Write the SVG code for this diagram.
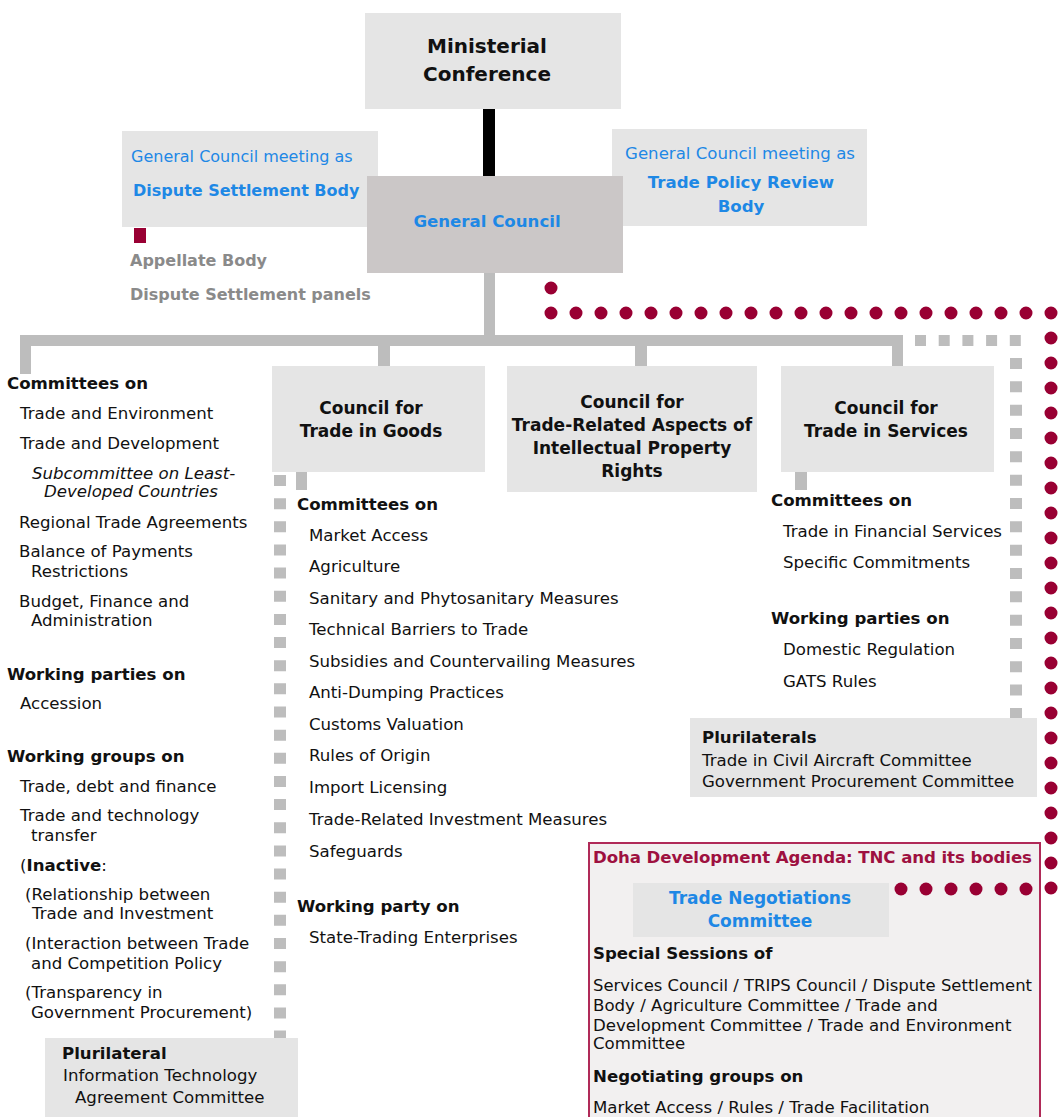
<svg xmlns="http://www.w3.org/2000/svg" width="1058" height="1117" viewBox="0 0 1058 1117">
<style>
text{font-family:"DejaVu Sans","Liberation Sans",sans-serif;font-size:16.6px;fill:#111}
.b{font-weight:bold}
.t{font-weight:bold;font-size:17px}
.c{text-anchor:middle}
.blue{fill:#1e88e5}
.gray{fill:#8a8a8a;font-weight:bold;font-size:16px}
.red{fill:#9e1040;font-weight:bold}
.box{fill:#e5e5e5}
.gc{fill:#cbc7c7}
.bar{fill:#bdbdbd}
.sq{fill:none;stroke:#bdbdbd;stroke-width:12}
.dots{fill:none;stroke:#990033;stroke-width:13;stroke-linecap:round;stroke-dasharray:0 25}
.dot{fill:#990033}
</style>
<rect width="1058" height="1117" fill="#ffffff"/>

<g id="connectors">
<rect x="483" y="109" width="12" height="68" fill="#000"/>
<rect class="bar" x="484" y="273" width="11" height="64"/>
<rect class="bar" x="20" y="335" width="883" height="11"/>
<rect class="bar" x="20" y="335" width="11" height="39"/>
<rect class="bar" x="378" y="340" width="12" height="26"/>
<rect class="bar" x="635" y="340" width="12" height="26"/>
<rect class="bar" x="892" y="335" width="11" height="31"/>
<rect class="bar" x="296" y="470" width="11" height="20"/>
<rect class="bar" x="795" y="470" width="12" height="20"/>
<path class="sq" d="M915,340.5 H1022" stroke-dasharray="11 12.7" style="stroke-width:11"/>
<path class="sq" d="M1016,358 V719" stroke-dasharray="11 12.33"/>
<path class="sq" d="M280,475 V1042" stroke-dasharray="11 12.15"/>
<path class="dots" d="M551,288 V313 H1051 V889"/>
</g>

<g id="ministerial-conference">
<rect class="box" x="365" y="13" width="256" height="96"/>
<text class="c b" x="487" y="53" style="font-size:20px">Ministerial</text>
<text class="c b" x="487" y="81" style="font-size:20px">Conference</text>
</g>

<g id="dispute-settlement-body">
<rect class="box" x="122" y="131" width="256" height="96"/>
<text class="blue" x="131" y="162" style="font-size:16px">General Council meeting as</text>
<text class="blue b" x="133" y="196" style="font-size:16px">Dispute Settlement Body</text>
<rect x="134" y="228" width="12" height="15" fill="#990033"/>
<text class="gray" x="130" y="266">Appellate Body</text>
<text class="gray" x="130" y="300">Dispute Settlement panels</text>
</g>

<g id="trade-policy-review-body">
<rect class="box" x="612" y="129" width="255" height="97"/>
<text class="blue c" x="740" y="159">General Council meeting as</text>
<text class="blue b c" x="741" y="188">Trade Policy Review</text>
<text class="blue b c" x="741" y="212">Body</text>
</g>

<g id="general-council">
<rect class="gc" x="367" y="176" width="256" height="97"/>
<text class="blue b c" x="487" y="227">General Council</text>
</g>

<g id="general-council-bodies">
<text class="b" x="7" y="389">Committees on</text>
<text x="20" y="419">Trade and Environment</text>
<text x="20" y="449">Trade and Development</text>
<text x="32" y="479" font-style="italic">Subcommittee on Least-</text>
<text x="44" y="497" font-style="italic">Developed Countries</text>
<text x="19" y="528">Regional Trade Agreements</text>
<text x="19" y="557">Balance of Payments</text>
<text x="31" y="577">Restrictions</text>
<text x="19" y="607">Budget, Finance and</text>
<text x="31" y="626">Administration</text>
<text class="b" x="7" y="680">Working parties on</text>
<text x="20" y="709">Accession</text>
<text class="b" x="7" y="762">Working groups on</text>
<text x="20" y="792">Trade, debt and finance</text>
<text x="20" y="821">Trade and technology</text>
<text x="31" y="841">transfer</text>
<text x="20" y="871">(<tspan class="b">Inactive</tspan>:</text>
<text x="25" y="900">(Relationship between</text>
<text x="32" y="919">Trade and Investment</text>
<text x="25" y="949">(Interaction between Trade</text>
<text x="31" y="969">and Competition Policy</text>
<text x="25" y="998">(Transparency in</text>
<text x="31" y="1018">Government Procurement)</text>
</g>

<g id="plurilateral-ita">
<rect class="box" x="45" y="1038" width="253" height="79"/>
<text class="b" x="62" y="1059">Plurilateral</text>
<text x="63" y="1081">Information Technology</text>
<text x="75" y="1103">Agreement Committee</text>
</g>

<g id="council-goods">
<rect class="box" x="272" y="366" width="213" height="106"/>
<text class="t c" x="371" y="414">Council for</text>
<text class="t c" x="371" y="437">Trade in Goods</text>
<text class="b" x="297" y="510">Committees on</text>
<text x="309" y="541">Market Access</text>
<text x="309" y="572">Agriculture</text>
<text x="309" y="604">Sanitary and Phytosanitary Measures</text>
<text x="309" y="635">Technical Barriers to Trade</text>
<text x="309" y="667">Subsidies and Countervailing Measures</text>
<text x="309" y="698">Anti-Dumping Practices</text>
<text x="309" y="730">Customs Valuation</text>
<text x="309" y="761">Rules of Origin</text>
<text x="309" y="793">Import Licensing</text>
<text x="309" y="825">Trade-Related Investment Measures</text>
<text x="309" y="857">Safeguards</text>
<text class="b" x="297" y="912">Working party on</text>
<text x="309" y="943">State-Trading Enterprises</text>
</g>

<g id="council-trips">
<rect class="box" x="507" y="366" width="250" height="126"/>
<text class="t c" x="632" y="408">Council for</text>
<text class="t c" x="632" y="431">Trade-Related Aspects of</text>
<text class="t c" x="632" y="454">Intellectual Property</text>
<text class="t c" x="632" y="477">Rights</text>
</g>

<g id="council-services">
<rect class="box" x="781" y="366" width="213" height="106"/>
<text class="t c" x="886" y="414">Council for</text>
<text class="t c" x="886" y="437">Trade in Services</text>
<text class="b" x="771" y="506">Committees on</text>
<text x="783" y="537">Trade in Financial Services</text>
<text x="783" y="568">Specific Commitments</text>
<text class="b" x="771" y="624">Working parties on</text>
<text x="783" y="655">Domestic Regulation</text>
<text x="783" y="687">GATS Rules</text>
</g>

<g id="plurilaterals">
<rect class="box" x="690" y="718" width="347" height="79"/>
<text class="b" x="702" y="743">Plurilaterals</text>
<text x="702" y="766">Trade in Civil Aircraft Committee</text>
<text x="702" y="787">Government Procurement Committee</text>
</g>

<g id="doha-development-agenda">
<rect x="589" y="843" width="451" height="290" fill="#f2f0f0" stroke="#b02a58" stroke-width="2"/>
<text class="red" x="593" y="863" textLength="439" lengthAdjust="spacing">Doha Development Agenda: TNC and its bodies</text>
<text class="b" x="593" y="959">Special Sessions of</text>
<text x="593" y="991" textLength="439" lengthAdjust="spacingAndGlyphs">Services Council / TRIPS Council / Dispute Settlement</text>
<text x="593" y="1011">Body / Agriculture Committee / Trade and</text>
<text x="593" y="1031">Development Committee / Trade and Environment</text>
<text x="593" y="1049">Committee</text>
<text class="b" x="593" y="1082">Negotiating groups on</text>
<text x="593" y="1113">Market Access / Rules / Trade Facilitation</text>
</g>

<g id="trade-negotiations-committee">
<rect class="box" x="633" y="883" width="256" height="54"/>
<text class="blue b c" x="760" y="904" style="font-size:17px">Trade Negotiations</text>
<text class="blue b c" x="760" y="927" style="font-size:17px">Committee</text>
</g>

<g id="doha-link">
<circle class="dot" cx="901" cy="889" r="6.5"/>
<circle class="dot" cx="926" cy="889" r="6.5"/>
<circle class="dot" cx="951" cy="889" r="6.5"/>
<circle class="dot" cx="976" cy="889" r="6.5"/>
<circle class="dot" cx="1001" cy="889" r="6.5"/>
<circle class="dot" cx="1026" cy="889" r="6.5"/>
</g>
</svg>
